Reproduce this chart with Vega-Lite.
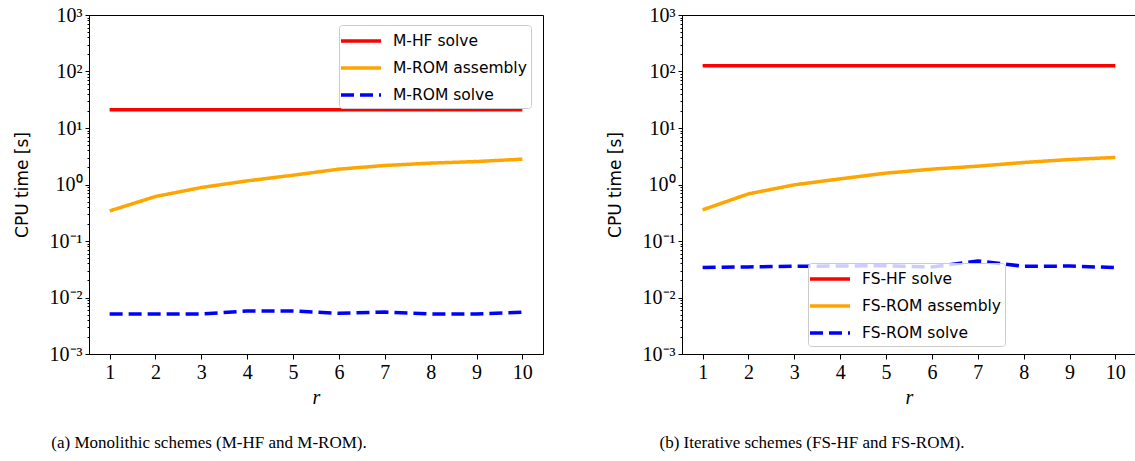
{
  "$schema": "https://vega.github.io/schema/vega-lite/v6.json",
  "padding": {"left": 12, "top": 4, "right": 0, "bottom": 0},
  "background": "white",
  "spacing": 61,
  "datasets": {
    "a": [
      {"r": 1, "t": 21.0, "series": "M-HF solve"},
      {"r": 10, "t": 21.0, "series": "M-HF solve"},
      {"r": 1, "t": 0.341, "series": "M-ROM assembly"},
      {"r": 2, "t": 0.613, "series": "M-ROM assembly"},
      {"r": 3, "t": 0.885, "series": "M-ROM assembly"},
      {"r": 4, "t": 1.16, "series": "M-ROM assembly"},
      {"r": 5, "t": 1.46, "series": "M-ROM assembly"},
      {"r": 6, "t": 1.87, "series": "M-ROM assembly"},
      {"r": 7, "t": 2.17, "series": "M-ROM assembly"},
      {"r": 8, "t": 2.39, "series": "M-ROM assembly"},
      {"r": 9, "t": 2.55, "series": "M-ROM assembly"},
      {"r": 10, "t": 2.81, "series": "M-ROM assembly"},
      {"r": 1, "t": 0.0051, "series": "M-ROM solve"},
      {"r": 2, "t": 0.0051, "series": "M-ROM solve"},
      {"r": 3, "t": 0.0051, "series": "M-ROM solve"},
      {"r": 4, "t": 0.00578, "series": "M-ROM solve"},
      {"r": 5, "t": 0.00578, "series": "M-ROM solve"},
      {"r": 6, "t": 0.00526, "series": "M-ROM solve"},
      {"r": 7, "t": 0.00554, "series": "M-ROM solve"},
      {"r": 8, "t": 0.0051, "series": "M-ROM solve"},
      {"r": 9, "t": 0.0051, "series": "M-ROM solve"},
      {"r": 10, "t": 0.00547, "series": "M-ROM solve"}
    ],
    "b": [
      {"r": 1, "t": 126.5, "series": "FS-HF solve"},
      {"r": 10, "t": 126.5, "series": "FS-HF solve"},
      {"r": 1, "t": 0.356, "series": "FS-ROM assembly"},
      {"r": 2, "t": 0.683, "series": "FS-ROM assembly"},
      {"r": 3, "t": 0.986, "series": "FS-ROM assembly"},
      {"r": 4, "t": 1.26, "series": "FS-ROM assembly"},
      {"r": 5, "t": 1.59, "series": "FS-ROM assembly"},
      {"r": 6, "t": 1.87, "series": "FS-ROM assembly"},
      {"r": 7, "t": 2.11, "series": "FS-ROM assembly"},
      {"r": 8, "t": 2.45, "series": "FS-ROM assembly"},
      {"r": 9, "t": 2.77, "series": "FS-ROM assembly"},
      {"r": 10, "t": 3.01, "series": "FS-ROM assembly"},
      {"r": 1, "t": 0.0339, "series": "FS-ROM solve"},
      {"r": 2, "t": 0.0348, "series": "FS-ROM solve"},
      {"r": 3, "t": 0.0357, "series": "FS-ROM solve"},
      {"r": 4, "t": 0.036, "series": "FS-ROM solve"},
      {"r": 5, "t": 0.0365, "series": "FS-ROM solve"},
      {"r": 6, "t": 0.0348, "series": "FS-ROM solve"},
      {"r": 7, "t": 0.0444, "series": "FS-ROM solve"},
      {"r": 8, "t": 0.0357, "series": "FS-ROM solve"},
      {"r": 9, "t": 0.036, "series": "FS-ROM solve"},
      {"r": 10, "t": 0.0339, "series": "FS-ROM solve"}
    ]
  },
  "resolve": {"scale": {"color": "independent", "strokeDash": "independent", "x": "independent", "y": "independent"}},
  "hconcat": [
    {
      "width": 454,
      "height": 339,
      "data": {"name": "a"},
      "title": {"text": "(a) Monolithic schemes (M-HF and M-ROM).", "orient": "bottom", "anchor": "middle", "font": "Liberation Serif", "fontSize": 17, "fontWeight": "normal", "color": "black", "offset": 28, "dx": -107},
      "mark": {"type": "line", "strokeWidth": 3.5, "clip": true},
      "encoding": {
        "x": {"field": "r", "type": "quantitative", "scale": {"domain": [0.55, 10.45], "nice": false, "zero": false},
          "axis": {"values": [1,2,3,4,5,6,7,8,9,10], "title": "r", "format": "d"}},
        "y": {"field": "t", "type": "quantitative", "scale": {"type": "log", "domain": [0.001, 1000], "nice": false},
          "axis": {"title": "CPU time [s]",
            "values": [0.001,0.002,0.003,0.004,0.005,0.006,0.007,0.008,0.009,0.01,0.02,0.03,0.04,0.05,0.06,0.07,0.08,0.09,0.1,0.2,0.3,0.4,0.5,0.6,0.7,0.8,0.9,1,2,3,4,5,6,7,8,9,10,20,30,40,50,60,70,80,90,100,200,300,400,500,600,700,800,900,1000],
            "labelExpr": "datum.value == 0.001 ? '10⁻³' : datum.value == 0.01 ? '10⁻²' : datum.value == 0.1 ? '10⁻¹' : datum.value == 1 ? '10⁰' : datum.value == 10 ? '10¹' : datum.value == 100 ? '10²' : datum.value == 1000 ? '10³' : ''",
            "tickSize": {"condition": {"test": "indexof([0.001,0.01,0.1,1,10,100,1000], datum.value) >= 0", "value": 4}, "value": 2}}},
        "color": {"field": "series", "type": "nominal",
          "scale": {"domain": ["M-HF solve", "M-ROM assembly", "M-ROM solve"], "range": ["#ff0000", "#ffa500", "#0000ff"]},
          "legend": {"orient": "none", "legendX": 250, "legendY": 10}},
        "strokeDash": {"field": "series", "type": "nominal",
          "scale": {"domain": ["M-HF solve", "M-ROM assembly", "M-ROM solve"], "range": [[1, 0], [1, 0], [13, 6]]},
          "legend": {"orient": "none", "legendX": 250, "legendY": 10}}
      }
    },
    {
      "width": 454,
      "height": 339,
      "data": {"name": "b"},
      "title": {"text": "(b) Iterative schemes (FS-HF and FS-ROM).", "orient": "bottom", "anchor": "middle", "font": "Liberation Serif", "fontSize": 17, "fontWeight": "normal", "color": "black", "offset": 28, "dx": -97},
      "mark": {"type": "line", "strokeWidth": 3.5, "clip": true},
      "encoding": {
        "x": {"field": "r", "type": "quantitative", "scale": {"domain": [0.55, 10.45], "nice": false, "zero": false},
          "axis": {"values": [1,2,3,4,5,6,7,8,9,10], "title": "r", "format": "d"}},
        "y": {"field": "t", "type": "quantitative", "scale": {"type": "log", "domain": [0.001, 1000], "nice": false},
          "axis": {"title": "CPU time [s]",
            "values": [0.001,0.002,0.003,0.004,0.005,0.006,0.007,0.008,0.009,0.01,0.02,0.03,0.04,0.05,0.06,0.07,0.08,0.09,0.1,0.2,0.3,0.4,0.5,0.6,0.7,0.8,0.9,1,2,3,4,5,6,7,8,9,10,20,30,40,50,60,70,80,90,100,200,300,400,500,600,700,800,900,1000],
            "labelExpr": "datum.value == 0.001 ? '10⁻³' : datum.value == 0.01 ? '10⁻²' : datum.value == 0.1 ? '10⁻¹' : datum.value == 1 ? '10⁰' : datum.value == 10 ? '10¹' : datum.value == 100 ? '10²' : datum.value == 1000 ? '10³' : ''",
            "tickSize": {"condition": {"test": "indexof([0.001,0.01,0.1,1,10,100,1000], datum.value) >= 0", "value": 4}, "value": 2}}},
        "color": {"field": "series", "type": "nominal",
          "scale": {"domain": ["FS-HF solve", "FS-ROM assembly", "FS-ROM solve"], "range": ["#ff0000", "#ffa500", "#0000ff"]},
          "legend": {"orient": "none", "legendX": 126, "legendY": 248}},
        "strokeDash": {"field": "series", "type": "nominal",
          "scale": {"domain": ["FS-HF solve", "FS-ROM assembly", "FS-ROM solve"], "range": [[1, 0], [1, 0], [13, 6]]},
          "legend": {"orient": "none", "legendX": 126, "legendY": 248}}
      }
    }
  ],
  "config": {
    "view": {"stroke": "black", "strokeWidth": 1},
    "axis": {
      "grid": false,
      "domainColor": "black",
      "domainWidth": 1,
      "tickColor": "black",
      "tickWidth": 1,
      "labelColor": "black",
      "labelFont": "Liberation Serif",
      "labelFontSize": 20,
      "labelPadding": 3,
      "titleColor": "black",
      "titleFontWeight": "normal"
    },
    "axisX": {"titleFont": "Liberation Serif", "titleFontStyle": "italic", "titleFontSize": 20, "titlePadding": 5, "labelFlush": false},
    "axisY": {"titleFont": "DejaVu Sans", "titleFontSize": 17, "titlePadding": 18, "labelFlush": false, "labelOverlap": false},
    "legend": {
      "title": null,
      "symbolType": "M-2,0L2,0",
      "symbolStrokeWidth": 3.5,
      "symbolSize": 400,
      "symbolOffset": 6,
      "labelFont": "DejaVu Sans",
      "labelFontSize": 15.5,
      "labelColor": "black",
      "labelOffset": 20,
      "fillColor": "rgba(255,255,255,0.8)",
      "strokeColor": "#cccccc",
      "cornerRadius": 3,
      "padding": 4,
      "rowPadding": 6
    }
  }
}
